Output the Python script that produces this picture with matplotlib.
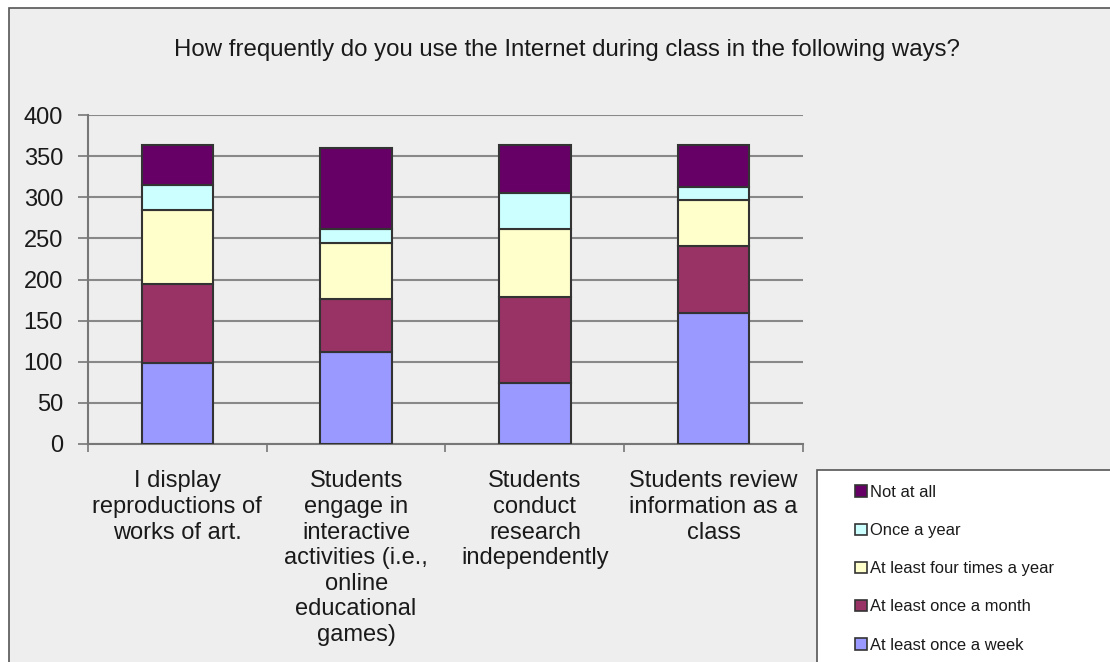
import numpy as np
import matplotlib.pyplot as plt
from matplotlib.patches import Rectangle, Patch

plt.rcParams['font.family'] = ['Liberation Sans', 'DejaVu Sans']

# Survey responses per activity (stacked bottom to top)
categories = [
    "I display\nreproductions of\nworks of art.",
    "Students\nengage in\ninteractive\nactivities (i.e.,\nonline\neducational\ngames)",
    "Students\nconduct\nresearch\nindependently",
    "Students review\ninformation as a\nclass",
]
series_names = [
    "At least once a week",
    "At least once a month",
    "At least four times a year",
    "Once a year",
    "Not at all",
]
once_a_week = [98, 112, 74, 159]
once_a_month = [97, 64, 105, 82]
four_times_a_year = [89, 68, 83, 56]
once_a_year = [31, 18, 43, 15]
not_at_all = [48, 98, 59, 51]
series_colors = ["#9999FF", "#993366", "#FFFFCC", "#CCFFFF", "#660066"]
yticks = [0, 50, 100, 150, 200, 250, 300, 350, 400]

W, H = 1110, 662
fig = plt.figure(figsize=(W / 100, H / 100), dpi=100)
fig.patch.set_facecolor("white")

# outer chart frame
fig.patches.append(Rectangle((9 / W, -0.05), 1.1, 1 - 8 / H + 0.05,
                             transform=fig.transFigure, facecolor="#EEEEEE",
                             edgecolor="#555555", linewidth=1.2, zorder=-1))

ax = fig.add_axes([88 / W, 1 - 444 / H, (803 - 88) / W, (444 - 115) / H])
ax.set_facecolor("none")

x = np.arange(len(categories))
bottom = np.zeros(len(categories))
values = [once_a_week, once_a_month, four_times_a_year, once_a_year, not_at_all]
for vals, color, name in zip(values, series_colors, series_names):
    ax.bar(x, vals, width=0.4, bottom=bottom, color=color,
           edgecolor="#333333", linewidth=1.5, label=name, zorder=3)
    bottom += np.array(vals)

ax.set_xlim(-0.5, len(categories) - 0.5)
ax.set_ylim(0, 400)
ax.set_yticks(yticks)
ax.yaxis.grid(True, color="#888888", linewidth=1.5, zorder=0)

ax.set_xticks(x)
ax.set_xticklabels(categories, fontsize=17, color="#1a1a1a", linespacing=1.21,
                   va="top")
ax.set_xticks(np.arange(len(categories) + 1) - 0.5, minor=True)
ax.tick_params(axis="x", which="major", length=0, pad=19)
ax.tick_params(axis="x", which="minor", length=6, width=1.2, color="#777777")
ax.tick_params(axis="y", length=7, width=1.2, color="#777777", pad=11,
               labelsize=17, labelcolor="#1a1a1a")

for side in ["top", "right"]:
    ax.spines[side].set_visible(False)
for side in ["left", "bottom"]:
    ax.spines[side].set_color("#777777")
    ax.spines[side].set_linewidth(1.5)

fig.text(567 / W, 1 - 50 / H,
         "How frequently do you use the Internet during class in the following ways?",
         ha="center", va="center", fontsize=17.3, color="#1a1a1a")

# legend box, drawn top to bottom in reverse stacking order
fig.patches.append(Rectangle((817 / W, -0.05), 0.3, 1 - 470 / H + 0.05,
                             transform=fig.transFigure, facecolor="white",
                             edgecolor="#555555", linewidth=1.2, zorder=1))
handles = [Patch(facecolor=c, edgecolor="#333333", linewidth=1.2)
           for c in series_colors][::-1]
fig.legend(handles, series_names[::-1], loc="upper left",
           bbox_to_anchor=(855 / W, 1 - 485 / H), frameon=False,
           fontsize=11.9, handlelength=0.7, handleheight=0.7,
           handletextpad=0.2, labelspacing=1.4, borderaxespad=0,
           borderpad=0, labelcolor="#1a1a1a")

fig.savefig("out.png", dpi=100)
